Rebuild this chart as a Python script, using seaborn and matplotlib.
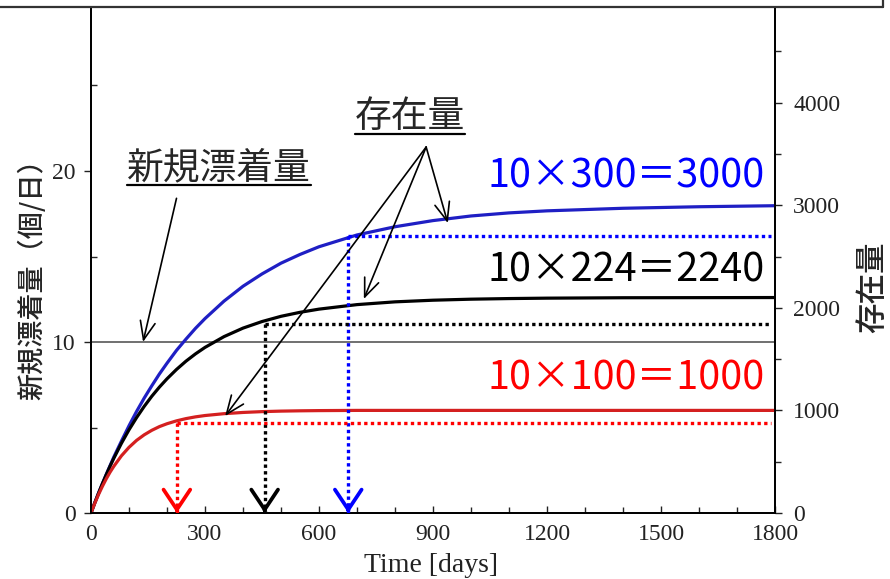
import matplotlib
matplotlib.use("Agg")
import matplotlib.pyplot as plt
import pandas as pd
import seaborn as sns
from matplotlib.lines import Line2D
from matplotlib.patches import Rectangle

# ---- data -------------------------------------------------------------
time_days = [0, 10, 20, 30, 40, 50, 60, 80, 100, 120, 140, 160, 180, 200,
             225, 250, 275, 300, 350, 400, 450, 500, 550, 600, 700, 800,
             900, 1000, 1100, 1200, 1400, 1600, 1800]
stock_300 = [0, 100, 195, 285, 375, 460, 545, 700, 850, 990, 1120, 1240,
             1355, 1460, 1585, 1695, 1800, 1895, 2065, 2210, 2330, 2435,
             2520, 2595, 2710, 2790, 2850, 2895, 2925, 2945, 2970, 2985, 2995]
stock_224 = [0, 100, 195, 286, 372, 455, 533, 679, 811, 930, 1039, 1138,
             1227, 1308, 1399, 1480, 1551, 1614, 1719, 1802, 1866, 1917,
             1956, 1987, 2031, 2058, 2074, 2084, 2090, 2094, 2098, 2099, 2100]
stock_100 = [0, 95, 182, 260, 332, 397, 455, 557, 640, 708, 762, 806,
             842, 870, 898, 920, 937, 950, 968, 980, 988, 993,
             996, 998, 1000, 1000, 1000, 1000, 1000, 1000, 1000, 1000, 1000]
case_names = ["300", "224", "100"]
case_labels = ["10×300＝3000", "10×224＝2240", "10×100＝1000"]
level90_stock = [2700, 1840, 875]
level90_time = [677, 457, 226]
inflow_per_day = 10

curve_colors = ["#1f1fc4", "#000000", "#d42020"]
mark_colors = ["#0000ff", "#000000", "#ff0000"]

df = pd.DataFrame({
    "time": time_days * 3,
    "stock": stock_300 + stock_224 + stock_100,
    "case": [c for c in case_names for _ in time_days],
})

# ---- style ------------------------------------------------------------
sns.set_theme(style="ticks")
jp = ["Noto Sans CJK JP", "DejaVu Sans"]
plt.rcParams["font.family"] = jp
serif = "Liberation Serif"

W, H = 890, 579
fig = plt.figure(figsize=(W / 100, H / 100), dpi=100)
fig.patch.set_facecolor("white")
ax = fig.add_axes([91 / W, 66 / H, 684 / W, 513 / H])
ax2 = ax.twinx()

ax.set_xlim(0, 1800)
ax.set_ylim(0, 30)
ax2.set_ylim(0, 5000)

# inflow reference line
ax.axhline(inflow_per_day, color="#707070", lw=1.4, zorder=1)

# stock curves
sns.lineplot(data=df, x="time", y="stock", hue="case", hue_order=case_names,
             palette=curve_colors, linewidth=2.3, legend=False,
             errorbar=None, ax=ax2)
for ln in ax2.lines:
    ln.set_solid_joinstyle("round")

# 90 % levels with arrows down to the time axis
for t90, s90, col in zip(level90_time, level90_stock, mark_colors):
    ax2.plot([t90, 1790], [s90, s90], color=col, lw=2.4,
             ls=(0, (1, 1)), dash_capstyle="butt", zorder=3)
    ax2.plot([t90, t90], [s90, 0], color=col, lw=2.4,
             ls=(0, (1, 1)), dash_capstyle="butt", zorder=3)
    ax2.annotate("", xy=(t90, 0), xytext=(t90, 40),
                 arrowprops=dict(arrowstyle="->,head_length=1.2,head_width=0.8",
                                 color=col, lw=2.7, shrinkA=0, shrinkB=0),
                 zorder=4)

# case labels
label_y = [3275, 2367, 1307]
for lab, y, col in zip(case_labels, label_y, mark_colors):
    ax2.text(1774, y, lab, color=col, fontsize=28.5, ha="right", va="center",
             family=jp)

# callouts
t_inflow = ax2.text(337, 3367, "新規漂着量", fontsize=26.5, ha="center",
                    va="center", family=jp)
t_stock = ax2.text(839, 3867, "存在量", fontsize=26.5, ha="center",
                   va="center", family=jp)
arrow_kw = dict(arrowstyle="->,head_length=1.1,head_width=0.45",
                color="black", lw=1.2, shrinkA=0, shrinkB=0)
ax2.annotate("", xy=(137, 1667), xytext=(225, 3067), arrowprops=arrow_kw)
for tip in [(939, 2826), (718, 2086), (353, 945)]:
    ax2.annotate("", xy=tip, xytext=(882, 3567), arrowprops=arrow_kw)

# ---- axes cosmetics ---------------------------------------------------
ax.set_xticks(range(0, 1801, 300))
ax.set_xticks(range(0, 1801, 100), minor=True)
ax.set_yticks([0, 10, 20])
ax.set_yticks([5, 15, 25], minor=True)
ax2.set_yticks([0, 1000, 2000, 3000, 4000])
ax2.set_yticks([500, 1500, 2500, 3500, 4500], minor=True)

ax.tick_params(axis="x", which="major", direction="in", length=5, width=1,
               pad=8, labelsize=17, colors="#222222")
ax.tick_params(axis="x", which="minor", direction="in", length=4, width=1)
ax.tick_params(axis="y", which="major", direction="out", length=5, width=1,
               pad=6, labelsize=17, colors="#222222")
ax.tick_params(axis="y", which="minor", direction="in", length=4, width=1)
ax2.tick_params(axis="y", which="major", direction="out", length=5, width=1,
                pad=8, labelsize=17, colors="#222222")
ax2.tick_params(axis="y", which="minor", direction="out", length=4, width=1)
for a in (ax, ax2):
    for lbl in a.get_xticklabels() + a.get_yticklabels():
        lbl.set_family(serif)
    for sp in a.spines.values():
        sp.set_color("black")
        sp.set_linewidth(1.3)

ax.set_xlabel("Time [days]", family=serif, fontsize=20, color="#222222",
              va="center")
ax.xaxis.set_label_coords(0.497, -0.103)
ax.set_ylabel("新規漂着量（個/日）", fontsize=19.5, family=jp, va="center",
              weight="medium")
ax.yaxis.set_label_coords(-0.086, 0.468)
ax2.set_ylabel("存在量", fontsize=22, family=jp, va="center", rotation=90,
               weight="medium")
ax2.yaxis.set_label_coords(1.143, 0.44)
ax2.set_xlabel("")

# underline the two callout words
fig.canvas.draw()
for t in (t_inflow, t_stock):
    bb = t.get_window_extent()
    y = bb.y0 + 2
    fig.add_artist(Line2D([bb.x0 / W, bb.x1 / W], [y / H, y / H],
                          transform=fig.transFigure, color="black", lw=1.6))

# frame edge across the top
fig.add_artist(Rectangle((0, 1 - 7 / H), 1, 7 / H, transform=fig.transFigure,
                         facecolor="white", edgecolor="none", zorder=10))
fig.add_artist(Line2D([0, 883 / W], [1 - 7 / H, 1 - 7 / H],
                      transform=fig.transFigure, color="#333333", lw=1.6,
                      zorder=11))
fig.add_artist(Line2D([883 / W, 883 / W], [1 - 7 / H, 1],
                      transform=fig.transFigure, color="#333333", lw=1.6,
                      zorder=11))

fig.savefig("out.png", dpi=100)
